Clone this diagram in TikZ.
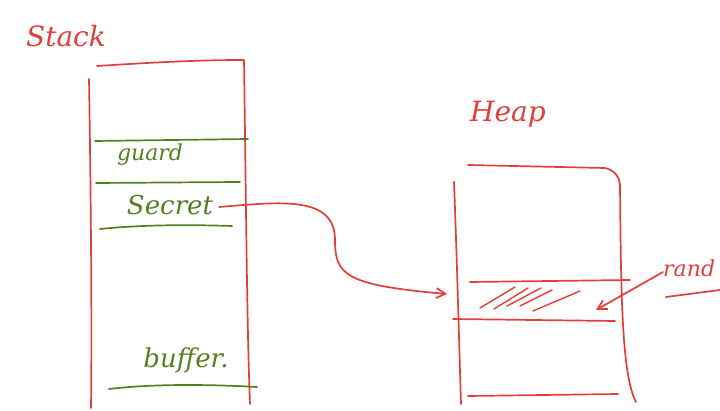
\documentclass[tikz,border=0pt]{standalone}
\usepackage{fontspec}
\setmainfont{DejaVu Serif}
\usetikzlibrary{arrows.meta}
\definecolor{ink}{RGB}{228,62,58}
\definecolor{leaf}{RGB}{84,128,34}
\tikzset{
  redline/.style={draw=ink, line width=1.7pt, line cap=round, line join=round},
  greenline/.style={draw=leaf, line width=1.7pt, line cap=round},
  redtext/.style={text=ink, font=\itshape\fontsize{28}{30}\selectfont, inner sep=0pt},
  greentext/.style={text=leaf, font=\itshape\fontsize{26}{28}\selectfont, inner sep=0pt},
  pointer/.style={redline, -{Straight Barb[length=9pt,width=10pt]}},
}
\begin{document}
\begin{tikzpicture}[x=1pt,y=-1pt]
\useasboundingbox[fill=white] (0,0) rectangle (720,411);

% labels
\node[redtext] (stacklbl) at (66,36) {Stack};
\node[redtext] (heaplbl) at (508,114) {Heap};

% stack frame
\draw[redline] (97,66) .. controls (160,62) and (200,60) .. (243,60);
\draw[redline] (89,79) .. controls (91,200) and (92,330) .. (91,408);
\draw[redline] (244,60) .. controls (246,200) and (247,330) .. (250,404);

% stack slots
\draw[greenline] (95,141) -- (248,139);
\node[greentext, font=\itshape\fontsize{22}{24}\selectfont] (guard) at (150,155) {guard};
\draw[greenline] (96,183) -- (240,182);
\node[greentext] (secret) at (170,205) {Secret};
\draw[greenline] (100,229) .. controls (150,224) and (200,225) .. (232,226);
\node[greentext] (buffer) at (186,360) {buffer.};
\draw[greenline] (109,389) .. controls (160,383) and (220,385) .. (257,387);

% heap frame
\draw[redline] (468,165) -- (605,168) .. controls (614,170) and (619,176) .. (620,185);
\draw[redline] (454,182) .. controls (457,260) and (459,340) .. (461,404);
\draw[redline] (620,185) .. controls (621,300) and (622,375) .. (636,402);

% heap block
\draw[redline] (470,282) -- (630,280);
\draw[redline] (453,319) -- (615,321);
\draw[redline] (468,396) -- (618,394);
\coordinate (block) at (447,294);
\coordinate (blockend) at (596,310);

% hatching inside the block
\foreach \a/\b/\c/\d in {480/308/515/287, 494/309/528/288, 507/306/541/288,
                         520/306/552/290, 533/311/580/291} {
  \draw[redline, line width=1.4pt] (\a,\b) -- (\c,\d);
}

% pointer from the secret slot to the heap block
\draw[pointer] (secret.east) ++(6,2) .. controls (280,202) and (335,195) .. (335,240)
  .. controls (335,275) and (345,285) .. (block);

% rand label with its pointer
\node[redtext, font=\itshape\fontsize{22}{24}\selectfont, anchor=west] (rand) at (663,268) {rand};
\draw[pointer] (rand.west) ++(0,4) -- (blockend);
\draw[redline] (666,297) -- (720,290);
\end{tikzpicture}
\end{document}
